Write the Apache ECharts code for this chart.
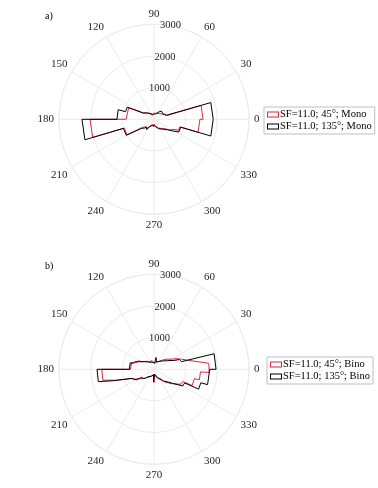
<!DOCTYPE html>
<html><head><meta charset="utf-8">
<script src="https://cdn.jsdelivr.net/npm/echarts@6/dist/echarts.min.js"></script>
<style>html,body{margin:0;padding:0;background:#fff}#c{width:378px;height:488px}</style>
</head><body><div id="c"></div>
<script>
// ---- axis ticks ----
const thetaTicks = [0, 30, 60, 90, 120, 150, 180, 210, 240, 270, 300, 330];
const rTicks = [0, 1000, 2000, 3000];
const panelTags = ['a)', 'b)'];
const seriesNames = ['SF=11.0; 45°; Mono', 'SF=11.0; 135°; Mono', 'SF=11.0; 45°; Bino', 'SF=11.0; 135°; Bino'];

// ---- outline vertices of the rose histograms (angle in deg, count) ----
const monoAngles135 = [0,16.4,18,24,32,40,48,56,64,74,84,92,100,110,118,126,134,142,150,155.5,155.5,165,165,180,180,196.5,196.5,210,216,222,228,234,240,248,256,264,272,280,288,296,304,312,320,328,333,343.6,343.6,360];
const monoCounts135 = [1870,1870,420,400,330,300,350,280,220,180,140,110,160,190,150,230,260,330,390,420,930,930,1170,1170,2275,2275,1010,1010,480,420,330,400,260,300,200,250,170,220,280,330,300,420,500,700,880,880,1870,1870];

const monoAngles45 = [0,16.4,16.4,24,32,40,48,56,64,74,84,92,100,110,118,126,134,142,148,152,155.5,155.5,180,180,196.5,196.5,210,216,222,228,234,240,248,256,264,272,280,288,296,304,312,320,326,333,336,336,343.6,343.6,360];
const monoCounts45 = [1550,1550,420,400,310,280,250,290,200,160,200,150,180,140,200,210,280,250,380,300,400,880,880,2020,2020,980,980,440,350,300,380,250,280,170,230,150,230,250,310,280,390,470,600,700,700,850,850,1450,1450];

const binoAngles135 = [0,14.5,15.5,21,24,28,33,38,44,50,57,64,72,80,84,95,105,115,125,135,142,150,158,164.6,164.6,180,180,192.5,196,202,207,211,213,220,226,232,240,250,260,266,268,272,274,285,295,303,308,313,318,323,326,330,336,336,344,344,360];
const binoCounts135 = [1960,1960,900,860,690,650,500,470,380,420,300,330,240,380,200,150,230,260,280,330,390,420,640,700,780,780,1800,1800,1300,760,700,640,480,440,390,300,250,230,200,180,390,390,150,220,300,330,470,470,600,740,720,1050,1060,1540,1540,1760,1760];

const binoAngles45 = [0,6.3,12,20,24,28,32,38,44,50,56,62,70,78,86,95,105,115,125,135,145,152,160,163,163,180,180,192,196,202,207,212,218,224,230,240,250,260,268,270,273,275,285,295,305,310,315,320,325,330,337,337,347,347,356.8,356.8,360];
const binoCounts45 = [1740,1740,1260,930,820,700,600,520,440,360,300,350,250,280,180,220,300,250,300,360,420,560,600,650,740,740,1650,1650,1250,790,680,560,480,420,320,280,220,180,160,420,420,150,250,330,360,520,560,700,800,950,1000,1310,1310,1470,1470,1740,1740];

const RED = '#e2263d';
const BLACK = '#000000';
const GRID = '#ececec';
const FONT = 'Liberation Serif';
// hollow rectangle legend icon (outer box minus inner box)
const HOLLOW_RECT = 'path://M0,0H12V6H0Z M1,1V5H11V1Z';

function outline(angles, counts) {
  const pts = angles.map((a, i) => [counts[i], a]);
  if (counts[counts.length - 1] !== counts[0]) pts.push([counts[0], 360]);
  return pts;
}

const centers = [[154, 119.3], [154, 369.3]];
const R = 95;

const polar = [], angleAxis = [], radiusAxis = [];
centers.forEach((c, k) => {
  polar.push({center: c, radius: R});
  angleAxis.push({
    polarIndex: 2 * k, type: 'value', min: 0, max: 360, interval: 30, startAngle: 0, clockwise: false,
    axisLine: {show: true, lineStyle: {color: GRID, width: 1}},
    axisTick: {show: false},
    splitLine: {show: true, lineStyle: {color: GRID, width: 1}},
    axisLabel: {show: true, margin: 5, fontFamily: FONT, fontSize: 11, color: '#262626',
      formatter: v => (thetaTicks.indexOf(v) >= 0 ? String(v) : '')}
  });
  radiusAxis.push({
    polarIndex: 2 * k, type: 'value', min: rTicks[0], max: rTicks[rTicks.length - 1], interval: 1000,
    axisLine: {show: false}, axisTick: {show: false}, axisLabel: {show: false},
    splitLine: {show: true, lineStyle: {color: GRID, width: 1}}
  });
  polar.push({center: c, radius: R});
  angleAxis.push({polarIndex: 2 * k + 1, type: 'value', min: 0, max: 360, startAngle: 80, clockwise: false, show: false});
  radiusAxis.push({
    polarIndex: 2 * k + 1, type: 'value', min: rTicks[0], max: rTicks[rTicks.length - 1], interval: 1000,
    axisLine: {show: false}, axisTick: {show: false}, splitLine: {show: false},
    axisLabel: {show: true, showMinLabel: false, margin: 0, align: 'center', verticalAlign: 'middle',
      fontFamily: FONT, fontSize: 10.5, color: '#262626', formatter: v => String(v)}
  });
});

function lineSeries(name, color, polarIndex, data, z) {
  return {name, type: 'line', coordinateSystem: 'polar', polarIndex, data, symbol: 'none',
    lineStyle: {color, width: 1}, itemStyle: {color}, color, z, animation: false, silent: true};
}

const series = [
  lineSeries(seriesNames[0], RED, 0, outline(monoAngles45, monoCounts45), 2),
  lineSeries(seriesNames[1], BLACK, 0, outline(monoAngles135, monoCounts135), 3),
  lineSeries(seriesNames[2], RED, 2, outline(binoAngles45, binoCounts45), 2),
  lineSeries(seriesNames[3], BLACK, 2, outline(binoAngles135, binoCounts135), 3)
];

function legendFor(names, left, top) {
  return {
    orient: 'vertical', left, top, icon: HOLLOW_RECT, itemWidth: 12, itemHeight: 6, itemGap: 1,
    padding: [2, 3, 2, 3], borderColor: '#bfbfbf', borderWidth: 1, backgroundColor: '#fff',
    selectedMode: false,
    itemStyle: {borderWidth: 0},
    textStyle: {fontFamily: FONT, fontSize: 10.5, color: '#000', padding: [0, 0, 0, -4]},
    data: names
  };
}

const chart = echarts.init(document.getElementById('c'), null, {renderer: 'canvas'});
chart.setOption({
  animation: false,
  backgroundColor: '#fff',
  title: [
    {text: panelTags[0], left: 45, top: 11, padding: 0, textStyle: {fontFamily: FONT, fontSize: 10, fontWeight: 'normal', color: '#000'}},
    {text: panelTags[1], left: 45, top: 261, padding: 0, textStyle: {fontFamily: FONT, fontSize: 10, fontWeight: 'normal', color: '#000'}}
  ],
  legend: [
    legendFor([seriesNames[0], seriesNames[1]], 264, 107),
    legendFor([seriesNames[2], seriesNames[3]], 267, 357)
  ],
  polar, angleAxis, radiusAxis, series
});
</script></body></html>
